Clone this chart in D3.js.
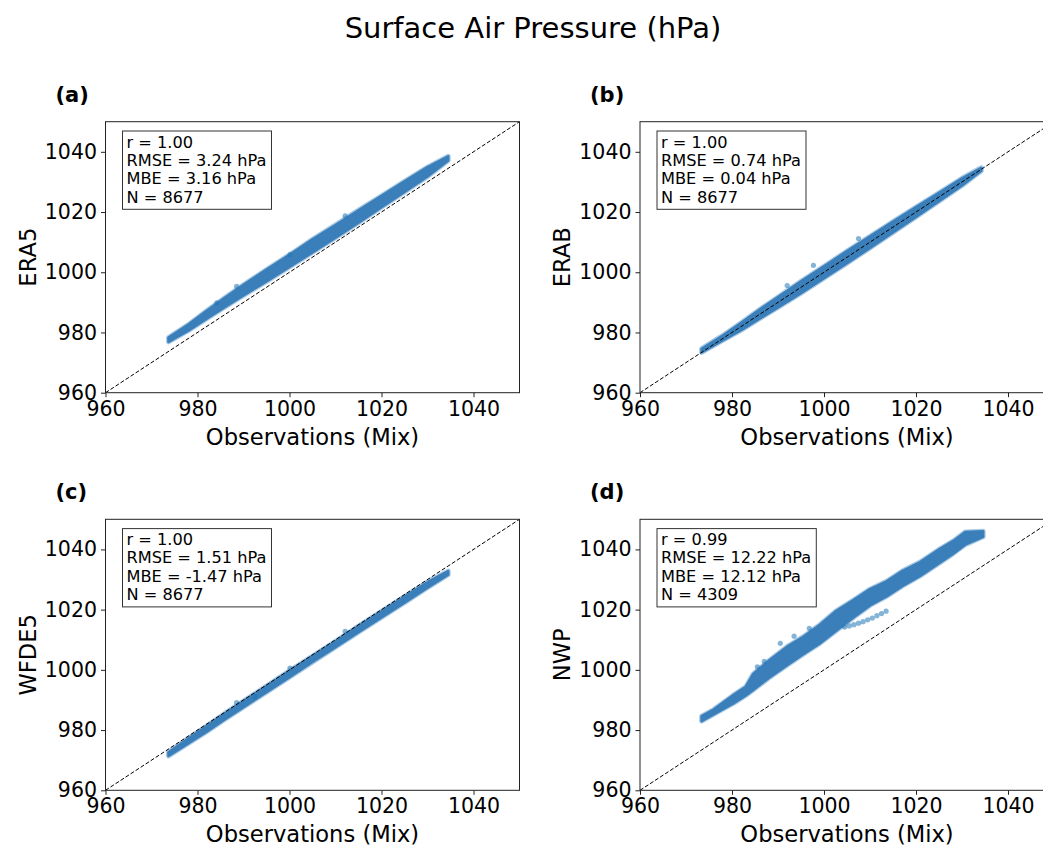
<!DOCTYPE html>
<html>
<head>
<meta charset="utf-8">
<script src="https://cdn.jsdelivr.net/npm/d3@7"></script>
<style>
  body { margin: 0; background: #fff; }
  svg { display: block; font-family: "DejaVu Sans", sans-serif; }
</style>
</head>
<body>
<svg id="chart" width="1043" height="848"></svg>
<script>
// axis setup shared by all four panels (hPa)
const axisDomain = [960, 1050];
const tickValues = [960, 980, 1000, 1020, 1040];

const panelLabels = ["(a)", "(b)", "(c)", "(d)"];
const yLabels = ["ERA5", "ERAB", "WFDE5", "NWP"];
const statR = ["1.00", "1.00", "1.00", "0.99"];
const statRMSE = ["3.24", "0.74", "1.51", "12.22"];
const statMBE = ["3.16", "0.04", "-1.47", "12.12"];
const statN = ["8677", "8677", "8677", "4309"];

// point cloud: obs value, lowest and highest model value
const aX  = [973.7, 978, 982, 986, 990, 995, 1000, 1005, 1010, 1015, 1020, 1025, 1030, 1034.5];
const aLo = [976.9, 980.6, 984.6, 988.5, 992.3, 997.0, 1001.8, 1006.6, 1011.5, 1016.5, 1021.6, 1026.7, 1031.8, 1037.1];
const aHi = [978.3, 982.6, 987.2, 991.6, 995.8, 1000.9, 1005.8, 1010.9, 1015.7, 1020.6, 1025.4, 1030.2, 1034.9, 1038.5];
const aOut = [[984.2, 989.8], [988.5, 995.3], [1000.1, 1005.9], [1012.1, 1018.7]];

const bX  = [973.4, 978, 982, 986, 990, 995, 1000, 1005, 1010, 1015, 1020, 1025, 1030, 1034.2];
const bLo = [973.4, 977.4, 980.8, 984.6, 988.3, 993.1, 998.0, 1003.0, 1008.1, 1013.2, 1018.4, 1023.6, 1028.8, 1033.7];
const bHi = [974.6, 979.0, 983.2, 987.6, 991.8, 997.0, 1002.0, 1007.0, 1011.9, 1016.8, 1021.6, 1026.4, 1031.2, 1034.7];
const bOut = [[997.7, 1002.3], [992.0, 995.6], [1007.5, 1011.2]];

const cX  = [973.7, 978, 982, 986, 990, 995, 1000, 1005, 1010, 1015, 1020, 1025, 1030, 1034.5];
const cLo = [971.4, 975.6, 979.5, 983.6, 987.6, 992.6, 997.6, 1002.6, 1007.5, 1012.5, 1017.4, 1022.3, 1027.3, 1031.6];
const cHi = [972.6, 977.2, 981.3, 985.6, 989.6, 994.6, 999.7, 1004.6, 1009.5, 1014.5, 1019.4, 1024.3, 1029.1, 1032.8];
const cOut = [[988.5, 989.1], [1000.1, 1000.6], [1012.1, 1012.8], [992.5, 991.0]];

const dX  = [973.4, 976, 980.3, 983, 984.6, 988, 991.9, 995.5, 999.1, 1002.5, 1006.4, 1010, 1013.6, 1017, 1020.9, 1025.2, 1028.1, 1030.7, 1034.6];
const dLo = [983.0, 985.2, 988.9, 991.5, 993.3, 997.3, 1001.5, 1005.2, 1008.8, 1012.8, 1017.4, 1021.4, 1024.4, 1027.8, 1031.2, 1035.6, 1038.6, 1041.6, 1044.2];
const dHi = [984.6, 986.8, 991.6, 994.4, 998.6, 1003.0, 1007.6, 1011.0, 1015.0, 1019.4, 1023.2, 1026.8, 1029.4, 1032.8, 1035.8, 1040.2, 1042.8, 1045.8, 1046.0];
const dOut = [[985.5, 1001.0], [987.0, 1002.8], [990.5, 1008.8], [993.5, 1011.2], [996.8, 1013.8],
              [1004.5, 1014.2], [1005.5, 1014.6], [1006.5, 1015.0], [1007.5, 1015.5], [1008.5, 1016.0],
              [1009.5, 1016.6], [1010.5, 1017.2], [1011.5, 1018.0], [1012.5, 1018.7], [1013.5, 1019.5]];

const bands = [
  { x: aX, lo: aLo, hi: aHi, out: aOut },
  { x: bX, lo: bLo, hi: bHi, out: bOut },
  { x: cX, lo: cLo, hi: cHi, out: cOut },
  { x: dX, lo: dLo, hi: dHi, out: dOut },
];

const layout = [
  { left: 105.5, top: 121.7 },
  { left: 640, top: 121.7 },
  { left: 105.5, top: 519.3 },
  { left: 640, top: 519.3 },
];
const plotW = 414;
const plotH = 271;

const svg = d3.select("#chart");

svg.append("text")
  .attr("x", 533)
  .attr("y", 38)
  .attr("text-anchor", "middle")
  .attr("font-size", 29)
  .text("Surface Air Pressure (hPa)");

bands.forEach((band, i) => {
  const pos = layout[i];
  const g = svg.append("g").attr("transform", `translate(${pos.left},${pos.top})`);

  const x = d3.scaleLinear().domain(axisDomain).range([0, plotW]);
  const y = d3.scaleLinear().domain(axisDomain).range([plotH, 0]);

  g.append("clipPath")
    .attr("id", `clip-${i}`)
    .append("rect")
    .attr("width", plotW)
    .attr("height", plotH);

  const plot = g.append("g").attr("clip-path", `url(#clip-${i})`);

  const rows = band.x.map((v, k) => ({ x: v, lo: band.lo[k], hi: band.hi[k] }));
  const area = d3.area()
    .x((d) => x(d.x))
    .y0((d) => y(d.lo))
    .y1((d) => y(d.hi));

  // faint fringe of half-transparent markers around the dense core
  plot.append("path")
    .datum(rows)
    .attr("d", area)
    .attr("fill", "none")
    .attr("stroke", "#6fa5d2")
    .attr("stroke-opacity", 0.6)
    .attr("stroke-width", 5)
    .attr("stroke-linejoin", "round");

  plot.append("path")
    .datum(rows)
    .attr("d", area)
    .attr("fill", "#3a7fba")
    .attr("stroke", "#3a7fba")
    .attr("stroke-width", 2.6)
    .attr("stroke-linejoin", "round");

  plot.selectAll("circle.out")
    .data(band.out)
    .join("circle")
    .attr("class", "out")
    .attr("cx", (d) => x(d[0]))
    .attr("cy", (d) => y(d[1]))
    .attr("r", 2.6)
    .attr("fill", "#1f77b4")
    .attr("fill-opacity", 0.55);

  plot.append("line")
    .attr("x1", x(axisDomain[0]))
    .attr("y1", y(axisDomain[0]))
    .attr("x2", x(axisDomain[1]))
    .attr("y2", y(axisDomain[1]))
    .attr("stroke", "#000")
    .attr("stroke-width", 1)
    .attr("stroke-dasharray", "4,2");

  const fmt = d3.format("d");
  const xAxis = g.append("g")
    .attr("transform", `translate(0,${plotH})`)
    .call(d3.axisBottom(x).tickValues(tickValues).tickFormat(fmt).tickSize(4.5).tickPadding(4));
  const yAxis = g.append("g")
    .call(d3.axisLeft(y).tickValues(tickValues).tickFormat(fmt).tickSize(4.5).tickPadding(4));

  [xAxis, yAxis].forEach((ax) => {
    ax.select(".domain").remove();
    ax.selectAll("line").attr("stroke", "#222");
    ax.selectAll("text")
      .attr("font-size", 20.5)
      .attr("font-family", "DejaVu Sans")
      .attr("fill", "#000");
  });

  g.append("rect")
    .attr("width", plotW)
    .attr("height", plotH)
    .attr("fill", "none")
    .attr("stroke", "#222")
    .attr("stroke-width", 1);

  // stats box
  const lines = [
    `r = ${statR[i]}`,
    `RMSE = ${statRMSE[i]} hPa`,
    `MBE = ${statMBE[i]} hPa`,
    `N = ${statN[i]}`,
  ];
  const box = g.append("g").attr("transform", "translate(17,9.3)");
  const boxRect = box.append("rect").attr("fill", "#fff").attr("stroke", "#333").attr("stroke-width", 1);
  const boxText = box.append("text").attr("font-size", 16.2);
  boxText.selectAll("tspan")
    .data(lines)
    .join("tspan")
    .attr("x", 4)
    .attr("y", (d, k) => 16.5 + k * 18.4)
    .text((d) => d);
  const bb = boxText.node().getBBox();
  boxRect.attr("width", bb.x + bb.width + 5).attr("height", 78.3);

  g.append("text")
    .attr("x", -50)
    .attr("y", -20)
    .attr("font-size", 21)
    .attr("font-weight", "bold")
    .text(panelLabels[i]);

  g.append("text")
    .attr("x", plotW / 2)
    .attr("y", plotH + 52)
    .attr("text-anchor", "middle")
    .attr("font-size", 22.6)
    .text("Observations (Mix)");

  g.append("text")
    .attr("transform", `translate(-70,${plotH / 2}) rotate(-90)`)
    .attr("text-anchor", "middle")
    .attr("font-size", 22.6)
    .text(yLabels[i]);
});
</script>
</body>
</html>
